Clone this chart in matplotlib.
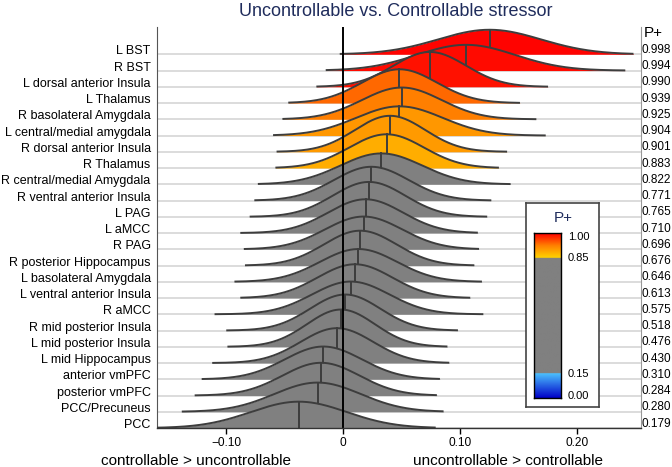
import numpy as np
import matplotlib.pyplot as plt
from matplotlib.colors import LinearSegmentedColormap

plt.rcParams['font.family'] = ['Liberation Sans', 'DejaVu Sans']

# regiones, de arriba a abajo
regions = ['L BST', 'R BST', 'L dorsal anterior Insula', 'L Thalamus',
           'R basolateral Amygdala', 'L central/medial amygdala',
           'R dorsal anterior Insula', 'R Thalamus', 'R central/medial Amygdala',
           'R ventral anterior Insula', 'L PAG', 'L aMCC', 'R PAG',
           'R posterior Hippocampus', 'L basolateral Amygdala',
           'L ventral anterior Insula', 'R aMCC', 'R mid posterior Insula',
           'L mid posterior Insula', 'L mid Hippocampus', 'anterior vmPFC',
           'posterior vmPFC', 'PCC/Precuneus', 'PCC']
p_plus = [0.998, 0.994, 0.990, 0.939, 0.925, 0.904, 0.901, 0.883, 0.822,
          0.771, 0.765, 0.710, 0.696, 0.676, 0.646, 0.613, 0.575, 0.518,
          0.476, 0.430, 0.310, 0.284, 0.280, 0.179]
# mediana y desviacion de cada posterior
medians = [0.125, 0.105, 0.074, 0.048, 0.050, 0.048, 0.040, 0.037, 0.0325,
           0.024, 0.022, 0.019, 0.0174, 0.0145, 0.013, 0.010, 0.0064, 0.0017,
           -0.002, -0.0054, -0.017, -0.019, -0.022, -0.038]
sds = [0.044, 0.042, 0.031, 0.032, 0.034, 0.037, 0.030, 0.032, 0.035,
       0.032, 0.031, 0.032, 0.033, 0.031, 0.033, 0.032, 0.033, 0.030,
       0.029, 0.031, 0.033, 0.033, 0.037, 0.041]
# rango de las muestras
lo = [-0.003, -0.015, -0.023, -0.047, -0.052, -0.060, -0.057, -0.058, -0.073,
      -0.076, -0.080, -0.088, -0.085, -0.084, -0.093, -0.088, -0.110, -0.100,
      -0.099, -0.112, -0.121, -0.127, -0.138, -0.165]
hi = [0.248, 0.241, 0.175, 0.151, 0.165, 0.173, 0.140, 0.133, 0.143,
      0.1265, 0.123, 0.115, 0.116, 0.112, 0.1185, 0.1085, 0.1197, 0.098,
      0.089, 0.0906, 0.0826, 0.080, 0.0857, 0.079]

xticks = [-0.10, 0, 0.10, 0.20]
xticklabels = ['\u22120.10', '0', '0.10', '0.20']
cbar_ticks = [1.00, 0.85, 0.15, 0.00]

navy = '#1f2c5c'
edge = '#3d3d3d'
cmap = LinearSegmentedColormap.from_list('pplus', [
    (0.0, '#0000c8'), (0.15, '#4cc2ff'), (0.15, '#808080'), (0.85, '#808080'),
    (0.85, '#ffd400'), (0.925, '#ff8000'), (1.0, '#ff0000')], N=512)

escala = 0.1666  # altura de la densidad en filas

fig = plt.figure(figsize=(6.72, 4.67), dpi=100)
ax = fig.add_axes([0.2336, 0.0835, 0.7202, 0.8587])
xl = (-0.1592, 0.2544)
n = len(regions)

ax.hlines(np.arange(n), xl[0], xl[1], color='#d2d2d2', lw=1.1, zorder=1)

for i in range(n):
    base = n - 1 - i
    x = np.linspace(lo[i], hi[i], 400)
    dens = lambda t: np.exp(-0.5*((t - medians[i])/sds[i])**2)/(sds[i]*np.sqrt(2*np.pi))
    y = base + escala*dens(x)
    z = 2 + 2*i
    ax.fill_between(x, base, y, color=cmap(p_plus[i]), lw=0, zorder=z)
    ax.plot(x, y, color=edge, lw=1.4, zorder=z+1, solid_capstyle='butt')
    ax.plot([medians[i], medians[i]], [base, base + escala*dens(medians[i])],
            color=edge, lw=1.4, zorder=z+1)

ax.axvline(0, color='black', lw=1.4, zorder=100)
ax.set_xlim(xl)
ax.set_ylim(0, 24.68)

ax.set_yticks([n - 1 - i + 0.27 for i in range(n)])
ax.set_yticklabels(regions, fontsize=9)
ax.tick_params(axis='y', length=0, pad=4.5)
for i in range(n):
    ax.text(1.002, n - 1 - i + 0.27, '%.3f' % p_plus[i], transform=ax.get_yaxis_transform(),
            ha='left', va='center', fontsize=8.5)

ax.set_xticks(xticks)
ax.set_xticklabels(xticklabels, fontsize=8.6)
ax.tick_params(axis='x', length=4, width=1, pad=2.5)

ax.spines['top'].set_visible(False)
ax.spines['left'].set_color('#555555')
ax.spines['left'].set_linewidth(0.8)
ax.spines['right'].set_color('#999999')
ax.spines['right'].set_linewidth(0.8)
ax.spines['bottom'].set_color('#333333')
ax.spines['bottom'].set_linewidth(1.0)
ax.spines['bottom'].set_zorder(101)

fig.text(396/672, 1 - 12/467, 'Uncontrollable vs. Controllable stressor', color=navy,
         fontsize=13, ha='center', va='center')
fig.text(653/672, 1 - 33/467, 'P+', fontsize=11, ha='center', va='center')
fig.text(196/672, 1 - 461/467, 'controllable > uncontrollable', fontsize=11,
         ha='center', va='center')
fig.text(508/672, 1 - 461/467, 'uncontrollable > controllable', fontsize=11,
         ha='center', va='center')

# leyenda de color
box = fig.add_axes([526/672, 1 - 406.7/467, 73.3/672, 204/467])
box.set_zorder(5)
box.set_xticks([])
box.set_yticks([])
for s in box.spines.values():
    s.set_color('#444444')
    s.set_linewidth(1.2)
box.text(0.505, 0.925, 'P+', color=navy, fontsize=11, ha='center', va='center',
         transform=box.transAxes)

cb = fig.add_axes([534/672, 1 - 398.3/467, 26.7/672, 165/467])
cb.set_zorder(6)
cb.imshow(np.linspace(0, 1, 512).reshape(-1, 1), cmap=cmap, aspect='auto',
          origin='lower', extent=[0, 1, 0, 1])
cb.set_xticks([])
cb.set_yticks([])
for s in cb.spines.values():
    s.set_color('black')
    s.set_linewidth(1.0)
for v in cbar_ticks:
    yv = min(max(v, 0.015), 0.98)
    cb.text(1.27, yv, '%.2f' % v, fontsize=8, ha='left', va='center', transform=cb.transAxes)

fig.savefig('out.png', dpi=100)
